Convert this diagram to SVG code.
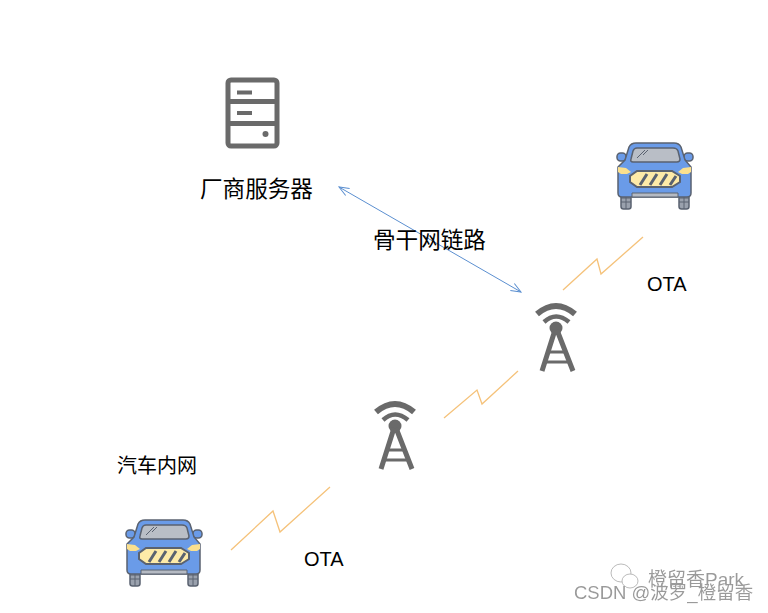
<svg xmlns="http://www.w3.org/2000/svg" width="768" height="613" viewBox="0 0 768 613">
<style>
.t{font-family:"Liberation Sans","Noto Sans CJK SC",sans-serif;fill:#000}
.zap{fill:none;stroke:#f5c27a;stroke-width:1.300}
.link{fill:none;stroke:#5b8fd0;stroke-width:1}
.ico{fill:none;stroke:#6a6a6a}
.wm{font-family:"Liberation Sans","Noto Sans CJK SC",sans-serif;fill:#9a9a9a;filter:url(#emboss)}
</style>
<defs>
<filter id="emboss" x="-5%" y="-20%" width="110%" height="140%"><feDropShadow dx="1" dy="1" stdDeviation="0" flood-color="#fff"/></filter>
<marker id="open" viewBox="0 0 12 10" refX="11" refY="5" markerWidth="12" markerHeight="10" markerUnits="userSpaceOnUse" orient="auto-start-reverse"><path d="M1 1L11 5L1 9" fill="none" stroke="#5b8fd0" stroke-width="1"/></marker>
<g id="car">
<g stroke="#5a6270" stroke-width="1.500"><rect x="621" y="192" width="10" height="17" rx="2.500" fill="#9aa1ad"/><path d="M621 198H631M621 202H631M626 196V209" stroke-width="1"/>
<rect x="679" y="192" width="10" height="17" rx="2.500" fill="#9aa1ad"/><path d="M679 198H689M679 202H689M684 196V209" stroke-width="1"/></g>
<rect x="617" y="153" width="9" height="8" rx="3.500" fill="#6a9be8" stroke="#5a6270" stroke-width="1.500"/>
<rect x="684" y="153" width="9" height="8" rx="3.500" fill="#6a9be8" stroke="#5a6270" stroke-width="1.500"/>
<path d="M636 143H674Q679 143 681 147L685 160L691 167V193Q691 197 687 197H622Q618 197 618 193V167L625 160L629 147Q631 143 636 143Z" fill="#6a9be8" stroke="#5a6270" stroke-width="1.500"/>
<path d="M637 148H673Q677 148 678 151L680 159Q680 162 677 162H633Q630 162 631 159L633 151Q634 148 637 148Z" fill="#b9bec6" stroke="#5a6270" stroke-width="1.500"/>
<path d="M637 158L645 150M643 155L648 150" stroke="#5a6270" stroke-width="1"/>
<path d="M618 167L626 168L631 172L627 174H621L618 172Z" fill="#fbe08e"/>
<path d="M691 167L683 168L678 172L682 174H688L691 172Z" fill="#fbe08e"/>
<path d="M637 171H672L680 176V182L672 187H637L630 182V176Z" fill="#fdeaa8" stroke="#5a6270" stroke-width="2"/>
<path d="M640 185L647 174M650 185L657 174M660 185L667 174M670 185L676 176" stroke="#5a6270" stroke-width="3"/>
<path d="M632 193H678V197H632Z" fill="#b5bac3" stroke="#5a6270" stroke-width="1"/>
</g>
<g id="tower">
<path class="ico" stroke-width="6" d="M537 314Q556 298 575 314"/>
<path class="ico" stroke-width="4.500" d="M544 322Q556 311 569 322"/>
<circle cx="556" cy="328" r="6.500" fill="#6a6a6a"/>
<path class="ico" stroke-width="5" d="M555 330L542 371M557 330L573 371"/>
<path class="ico" stroke-width="3" d="M549 352H565M546 362H569"/>
</g>
</defs>
<rect width="768" height="613" fill="#fff"/>
<g id="connectors">
<path class="link" d="M339 187L521 292" marker-start="url(#open)" marker-end="url(#open)"/>
<path class="zap" d="M231 550L273 511L280 532L330 487"/>
<path class="zap" d="M444 418L477 390L482 404L518 371"/>
<path class="zap" d="M563 290L597 259L601 274L643 237"/>
</g>
<g id="server">
<rect x="228" y="80" width="49" height="66" rx="3" class="ico" stroke-width="5"/>
<path class="ico" stroke-width="5" d="M228 101.500H277M228 123.500H277"/>
<path class="ico" stroke-width="4" d="M237 92.500H252M237 113H252"/>
<circle cx="265.500" cy="134" r="3" fill="#6a6a6a"/>
<text class="t" x="200" y="197" font-size="22.600">厂商服务器</text>
</g>
<g id="car-top"><use href="#car"/></g>
<g id="car-bottom"><use href="#car" transform="translate(-491 377)"/></g>
<g id="tower-top"><use href="#tower"/></g>
<g id="tower-bottom"><use href="#tower" transform="translate(-161 98)"/></g>
<text class="t" x="373" y="248" font-size="22.600">骨干网链路</text>
<text class="t" x="117" y="473" font-size="20">汽车内网</text>
<text class="t" x="647" y="291" font-size="20">OTA</text>
<text class="t" x="304" y="566" font-size="20">OTA</text>
<g id="watermark">
<g fill="#fff" stroke="#aaa" stroke-width="0.800"><ellipse cx="621" cy="573" rx="10" ry="9"/><ellipse cx="630" cy="581" rx="8" ry="7"/></g>
<text class="wm" x="648" y="586" font-size="19">橙留香Park</text>
<text class="wm" x="574" y="599" font-size="18.500">CSDN @波罗_橙留香</text>
</g>
</svg>
